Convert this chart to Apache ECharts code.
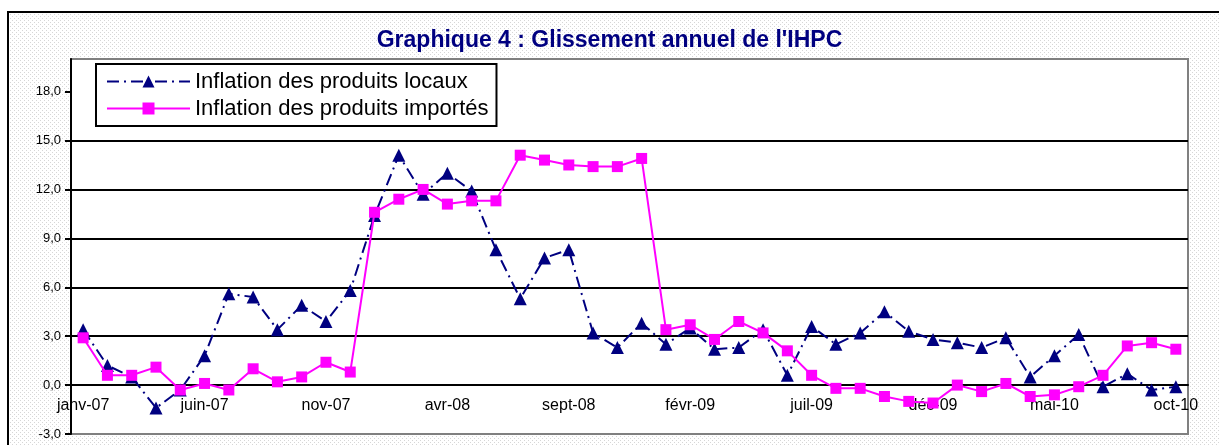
<!DOCTYPE html>
<html>
<head>
<meta charset="utf-8">
<script src="https://cdn.jsdelivr.net/npm/echarts@6/dist/echarts.min.js"></script>
<style>
html,body{margin:0;padding:0;background:#fff;}
#c{width:1219px;height:445px;}
</style>
</head>
<body>
<div id="c"></div>
<script>
const titleText = "Graphique 4 : Glissement annuel de l'IHPC";
const categories = [
  'janv-07','févr-07','mars-07','avr-07','mai-07','juin-07','juil-07','août-07','sept-07','oct-07','nov-07','déc-07',
  'janv-08','févr-08','mars-08','avr-08','mai-08','juin-08','juil-08','août-08','sept-08','oct-08','nov-08','déc-08',
  'janv-09','févr-09','mars-09','avr-09','mai-09','juin-09','juil-09','août-09','sept-09','oct-09','nov-09','déc-09',
  'janv-10','févr-10','mars-10','avr-10','mai-10','juin-10','juil-10','août-10','sept-10','oct-10'
];
const seriesNames = ['Inflation des produits locaux', 'Inflation des produits importés'];
const localValues = [3.4,1.2,0.5,-1.4,-0.3,1.8,5.6,5.4,3.4,4.9,3.9,5.8,
  10.4,14.1,11.7,13.0,11.9,8.3,5.3,7.8,8.3,3.2,2.3,3.8,
  2.5,3.5,2.2,2.3,3.4,0.6,3.6,2.5,3.2,4.5,3.3,2.8,
  2.6,2.3,2.9,0.5,1.8,3.1,-0.1,0.7,-0.3,-0.1];
const importedValues = [2.9,0.6,0.6,1.1,-0.3,0.1,-0.3,1.0,0.2,0.5,1.4,0.8,
  10.6,11.4,12.0,11.1,11.3,11.3,14.1,13.8,13.5,13.4,13.4,13.9,
  3.4,3.7,2.8,3.9,3.2,2.1,0.6,-0.2,-0.2,-0.7,-1.0,-1.1,
  0.0,-0.4,0.1,-0.7,-0.6,-0.1,0.6,2.4,2.6,2.2];
const yTicks = [-3,0,3,6,9,12,15,18];
const yMin = -3, yMax = 20, yStep = 3;

// dotted pattern for chart area
const pc = document.createElement('canvas');
pc.width = 4; pc.height = 4;
const pctx = pc.getContext('2d');
pctx.fillStyle = '#ffffff'; pctx.fillRect(0,0,4,4);
pctx.fillStyle = '#d6d6d6';
pctx.fillRect(0,0,1,1); pctx.fillRect(2,2,1,1);

const chart = echarts.init(document.getElementById('c'), null, {renderer:'canvas'});
const FONT = 'Liberation Sans, Arial, sans-serif';
chart.setOption({
  backgroundColor: '#ffffff',
  animation: false,
  textStyle: {fontFamily: FONT},
  graphic: [{
    type: 'rect', z: -10, silent: true,
    shape: {x: 8, y: 12, width: 1240, height: 460},
    style: {fill: {image: pc, repeat: 'repeat'}, stroke: '#000', lineWidth: 2}
  }],
  title: {
    text: titleText, left: 'center', top: 29, padding: 0,
    textStyle: {fontFamily: FONT, fontSize: 23, fontWeight: 'bold', color: '#000080'}
  },
  legend: {
    orient: 'vertical', left: 96, top: 64,
    padding: [6, 8, 6, 10],
    backgroundColor: '#ffffff', borderColor: '#000', borderWidth: 2,
    itemWidth: 83, itemHeight: 15, itemGap: 4,
    textStyle: {fontFamily: FONT, fontSize: 22, color: '#000', lineHeight: 23},
    data: seriesNames
  },
  grid: {
    left: 71, top: 59, width: 1117, height: 375,
    show: true, backgroundColor: '#ffffff', borderColor: '#808080', borderWidth: 2,
    containLabel: false, outerBoundsMode: 'none'
  },
  xAxis: {
    type: 'category', data: categories, boundaryGap: true, position: 'bottom', offset: 0,
    axisLine: {onZero: false, lineStyle: {color: '#000', width: 2}},
    axisTick: {interval: 4, length: 5, lineStyle: {color: '#000', width: 2}},
    axisLabel: {interval: 4, margin: 13, fontSize: 16, color: '#000', fontFamily: FONT}
  },
  yAxis: {
    type: 'value', min: yMin, max: yMax, interval: yStep,
    axisLine: {show: true, onZero: false, lineStyle: {color: '#000', width: 2}},
    axisTick: {show: true, length: 6, lineStyle: {color: '#000', width: 2}, customValues: yTicks},
    axisLabel: {margin: 10, fontSize: 13, color: '#000', fontFamily: FONT, customValues: yTicks,
      formatter: v => v.toFixed(1).replace('.', ',')},
    splitLine: {show: true, showMinLine: false, showMaxLine: false, lineStyle: {color: '#000', width: 2}}
  },
  series: [
    {
      name: seriesNames[0], type: 'line', data: localValues,
      symbol: 'triangle', symbolSize: 13,
      itemStyle: {color: '#000080'},
      lineStyle: {color: '#000080', width: 2, type: [12, 5, 2, 5]},
      z: 3
    },
    {
      name: seriesNames[1], type: 'line', data: importedValues,
      symbol: 'rect', symbolSize: 11,
      itemStyle: {color: '#ff00ff'},
      lineStyle: {color: '#ff00ff', width: 2, type: 'solid'},
      z: 4
    }
  ]
});
// place the category axis on the value 0 using the library's own scale
const zeroPx = chart.convertToPixel({yAxisIndex: 0}, 0);
const minPx = chart.convertToPixel({yAxisIndex: 0}, yMin);
chart.setOption({xAxis: {offset: -(minPx - zeroPx)}});
</script>
</body>
</html>
